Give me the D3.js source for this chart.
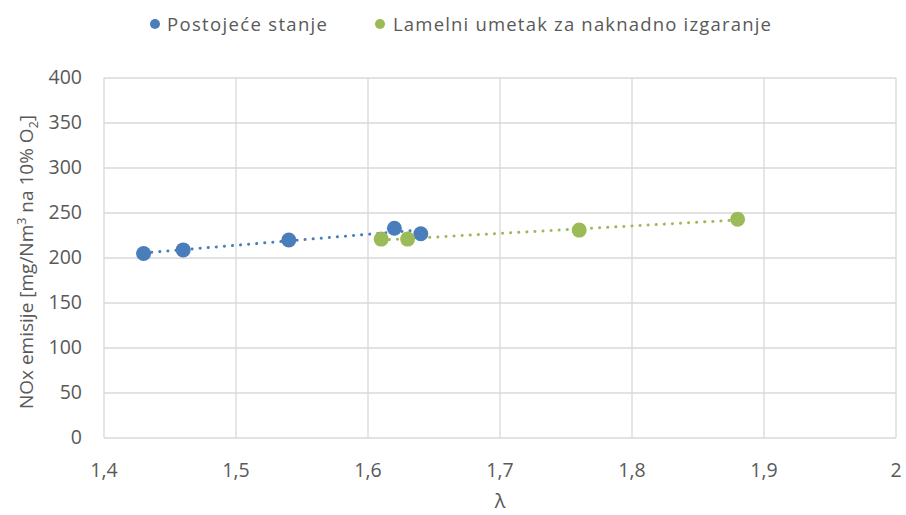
<!DOCTYPE html>
<html><head><meta charset="utf-8">
<script src="https://cdn.jsdelivr.net/npm/d3@7"></script>
<style>body{margin:0;background:#fff}svg{display:block}text{font-family:"Open Sans","Noto Sans",sans-serif;fill:#595959}</style>
</head><body><svg id="c" width="906" height="515"></svg>
<script>
const seriesNames = ["Postojeće stanje", "Lamelni umetak za naknadno izgaranje"];
const blueX = [1.43, 1.46, 1.54, 1.62, 1.64];
const blueY = [205, 209, 220, 233, 227];
const greenX = [1.61, 1.63, 1.76, 1.88];
const greenY = [221, 221, 231, 243];
const xTicks = [1.4, 1.5, 1.6, 1.7, 1.8, 1.9, 2.0];
const yTicks = [0, 50, 100, 150, 200, 250, 300, 350, 400];
const colors = ["#4a7ebb", "#9bbb59"];

const svg = d3.select("#c");
const m = {l:104, r:896, t:78, b:438};
const x = d3.scaleLinear().domain([1.4, 2.0]).range([m.l, m.r]);
const y = d3.scaleLinear().domain([0, 400]).range([m.b, m.t]);

const g = svg.append("g");
g.selectAll(".gx").data(xTicks).join("line")
  .attr("x1", d=>x(d)).attr("x2", d=>x(d)).attr("y1", m.t).attr("y2", m.b)
  .attr("stroke", "#d9d9d9").attr("stroke-width", 1.3);
g.selectAll(".gy").data(yTicks).join("line")
  .attr("x1", m.l).attr("x2", m.r).attr("y1", d=>y(d)).attr("y2", d=>y(d))
  .attr("stroke", "#d9d9d9").attr("stroke-width", 1.3);

const fmt = d => d === 2 ? "2" : d3.format(".1f")(d).replace(".", ",");
g.selectAll(".tx").data(xTicks).join("text")
  .attr("x", d=>x(d)).attr("y", 477).attr("text-anchor", "middle")
  .attr("font-size", 19.5).text(fmt);
g.selectAll(".ty").data(yTicks).join("text")
  .attr("x", 82).attr("y", d=>y(d)+6).attr("text-anchor", "end")
  .attr("font-size", 19.5).text(d=>d);

svg.append("text").attr("x", x(1.7)).attr("y", 508).attr("text-anchor", "middle")
  .attr("font-size", 20).text("λ");

const yt = svg.append("text").attr("transform", "translate(33,262) rotate(-90)")
  .attr("text-anchor", "middle").attr("font-size", 19);
yt.append("tspan").text("NOx emisije [mg/Nm");
yt.append("tspan").attr("dy", -7).attr("font-size", 12.5).text("3");
yt.append("tspan").attr("dy", 7).text(" na 10% O");
yt.append("tspan").attr("dy", 5).attr("font-size", 12.5).text("2");
yt.append("tspan").attr("dy", -5).text("]");

function trend(xs, ys) {
  const mx = d3.mean(xs), my = d3.mean(ys);
  const b = d3.sum(xs.map((v,i)=>(v-mx)*(ys[i]-my))) / d3.sum(xs.map(v=>(v-mx)**2));
  const a = my - b*mx;
  const x0 = d3.min(xs), x1 = d3.max(xs);
  return [[x0, a+b*x0], [x1, a+b*x1]];
}
const sets = [[blueX, blueY], [greenX, greenY]];
sets.forEach(([xs, ys], i) => {
  const t = trend(xs, ys);
  svg.append("path").attr("d", d3.line().x(d=>x(d[0])).y(d=>y(d[1]))(t))
    .attr("stroke", colors[i]).attr("stroke-width", 3).attr("fill", "none")
    .attr("stroke-linecap", "round").attr("stroke-dasharray", "0.1 8");
});
sets.forEach(([xs, ys], i) => {
  svg.append("g").selectAll("circle").data(xs.map((v,j)=>[v, ys[j]])).join("circle")
    .attr("cx", d=>x(d[0])).attr("cy", d=>y(d[1])).attr("r", 7.5).attr("fill", colors[i]);
});

const leg = [[155, 167, 160], [380, 393, 378]];
seriesNames.forEach((n, i) => {
  svg.append("circle").attr("cx", leg[i][0]).attr("cy", 24).attr("r", 5).attr("fill", colors[i]);
  svg.append("text").attr("x", leg[i][1]).attr("y", 31).attr("font-size", 18.5)
    .attr("textLength", leg[i][2]).attr("lengthAdjust", "spacing").text(n);
});
</script></body></html>
